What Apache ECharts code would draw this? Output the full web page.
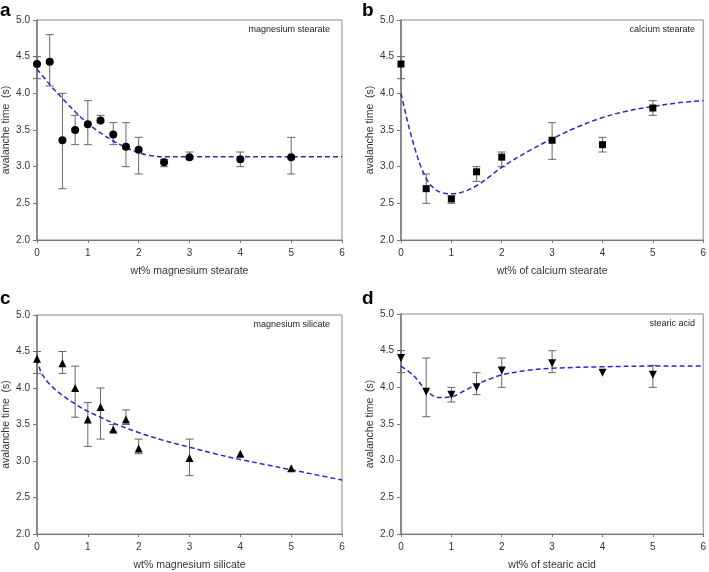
<!DOCTYPE html>
<html><head><meta charset="utf-8">
<script src="https://cdn.jsdelivr.net/npm/echarts@6/dist/echarts.min.js"></script>
<style>html,body{margin:0;padding:0;background:#fff}#c{width:709px;height:572px}</style>
</head><body><div id="c"></div>
<script>
// ---- data ----
const xA = [0,0.25,0.5,0.75,1,1.25,1.5,1.75,2,2.5,3,4,5];
const yA = [4.40,4.43,3.36,3.50,3.58,3.63,3.44,3.27,3.23,3.06,3.13,3.10,3.13];
const loA = [4.2,4.1,2.7,3.3,3.3,3.6,3.3,3.0,2.9,3.0,3.1,3.0,2.9];
const hiA = [4.5,4.8,4.0,3.7,3.9,3.7,3.6,3.6,3.4,3.1,3.2,3.2,3.4];
const fitXA = [0,0.25,0.5,0.75,1,1.25,1.5,1.75,2,2.25,2.5,3,4,5,6];
const fitYA = [4.33,4.12,3.93,3.75,3.59,3.46,3.35,3.26,3.19,3.15,3.135,3.135,3.135,3.135,3.135];

const xB = [0,0.5,1,1.5,2,3,4,5];
const yB = [4.40,2.70,2.56,2.93,3.13,3.36,3.30,3.80];
const loB = [4.2,2.5,2.5,2.8,3.0,3.1,3.2,3.7];
const hiB = [4.5,2.9,2.6,3.0,3.2,3.6,3.4,3.9];
const fitXB = [0,0.1,0.2,0.3,0.4,0.5,0.6,0.75,1,1.25,1.5,1.75,2,2.5,3,3.5,4,4.5,5,5.5,6];
const fitYB = [4.0,3.7,3.43,3.19,2.99,2.84,2.74,2.66,2.63,2.66,2.74,2.86,2.99,3.2,3.38,3.54,3.67,3.76,3.82,3.87,3.9];

const xC = [0,0.5,0.75,1,1.25,1.5,1.75,2,3,4,5];
const yC = [4.40,4.34,4.00,3.57,3.74,3.43,3.57,3.17,3.04,3.10,2.90];
const loC = [4.2,4.2,3.6,3.2,3.3,3.4,3.5,3.1,2.8,null,null];
const hiC = [4.5,4.5,4.3,3.8,4.0,3.5,3.7,3.3,3.3,null,null];
const fitXC = [0,0.05,0.1,0.25,0.5,0.75,1,1.25,1.5,2,2.5,3,3.5,4,4.5,5,5.5,6];
const fitYC = [4.4,4.27,4.19,4.05,3.9,3.78,3.68,3.6,3.52,3.39,3.28,3.19,3.1,3.02,2.95,2.88,2.81,2.74];

const xD = [0,0.5,1,1.5,2,3,4,5];
const yD = [4.40,3.94,3.90,4.00,4.23,4.33,4.20,4.17];
const loD = [4.2,3.6,3.8,3.9,4.0,4.2,null,4.0];
const hiD = [4.5,4.4,4.0,4.2,4.4,4.5,null,4.3];
const fitXD = [0,0.25,0.5,0.75,1,1.25,1.5,1.75,2,2.5,3,4,5,6];
const fitYD = [4.29,4.16,3.96,3.86,3.87,3.95,4.04,4.11,4.17,4.23,4.26,4.28,4.29,4.29];

const panelLetters = ['a','b','c','d'];
const panelNames = ['magnesium stearate','calcium stearate','magnesium silicate','stearic acid'];
const xTitles = ['wt% magnesium stearate','wt% of calcium stearate','wt% magnesium silicate','wt% of stearic acid'];
const yTitle = 'avalanche time  (s)';

// ---- chart ----
const FONT = '"Liberation Sans", Arial, sans-serif';
const panels = [
  {x:xA,y:yA,lo:loA,hi:hiA,fx:fitXA,fy:fitYA,sym:'circle',size:8},
  {x:xB,y:yB,lo:loB,hi:hiB,fx:fitXB,fy:fitYB,sym:'rect',size:7},
  {x:xC,y:yC,lo:loC,hi:hiC,fx:fitXC,fy:fitYC,sym:'triangle',size:8},
  {x:xD,y:yD,lo:loD,hi:hiD,fx:fitXD,fy:fitYD,sym:'path://M0,0 L10,0 L5,9 Z',size:8}
];
const grids = [
  {left:37,top:20,width:305,height:220},
  {left:401,top:20,width:306,height:220},
  {left:37,top:315,width:305,height:220},
  {left:401,top:314,width:306,height:220}
];
const option = {
  animation:false,
  backgroundColor:'#fff',
  grid: grids.map(g=>Object.assign({show:true,borderColor:'#8a8a8a',borderWidth:1,backgroundColor:'transparent'},g)),
  xAxis: grids.map((g,i)=>({
    type:'value',gridIndex:i,min:0,max:6,interval:1,
    name:xTitles[i],nameLocation:'middle',nameGap:26,
    nameTextStyle:{fontFamily:FONT,fontSize:10.5,color:'#333'},
    axisLine:{show:true,lineStyle:{color:'#777',width:1}},
    axisTick:{show:true,length:3,lineStyle:{color:'#777'}},
    axisLabel:{fontFamily:FONT,fontSize:10,color:'#333',margin:8},
    splitLine:{show:false}
  })),
  yAxis: grids.map((g,i)=>({
    type:'value',gridIndex:i,min:2,max:5,interval:0.5,
    name:yTitle,nameLocation:'middle',nameGap:25,
    nameTextStyle:{fontFamily:FONT,fontSize:10.5,color:'#333'},
    axisLine:{show:true,lineStyle:{color:'#777',width:1.5}},
    axisTick:{show:true,length:4,lineStyle:{color:'#777'}},
    axisLabel:{fontFamily:FONT,fontSize:10,color:'#333',margin:7,formatter:v=>v.toFixed(1)},
    splitLine:{show:false}
  })),
  graphic: [],
  series: []
};
const letterPos = [[0,1],[362,1],[0,289],[362,289]];
panelLetters.forEach((L,i)=>{
  option.graphic.push({type:'text',left:letterPos[i][0],top:letterPos[i][1],
    style:{text:L,font:'bold 19px '+FONT,fill:'#000'}});
  const g = grids[i];
  option.graphic.push({type:'text',right:709-(g.left+g.width)+12,top:g.top+5,
    style:{text:panelNames[i],font:'9px '+FONT,fill:'#222'}});
});
panels.forEach((p,i)=>{
  const errData = p.x.map((x,k)=>[x,p.lo[k],p.hi[k]]).filter(d=>d[1]!==null);
  option.series.push({
    type:'custom',xAxisIndex:i,yAxisIndex:i,z:2,
    data:errData,
    renderItem:(params,api)=>{
      const lo = api.coord([api.value(0),api.value(1)]);
      const hi = api.coord([api.value(0),api.value(2)]);
      const w = 4;
      const st = {stroke:'#666',lineWidth:1};
      return {type:'group',children:[
        {type:'line',shape:{x1:lo[0],y1:lo[1],x2:hi[0],y2:hi[1]},style:st},
        {type:'line',shape:{x1:lo[0]-w,y1:lo[1],x2:lo[0]+w,y2:lo[1]},style:st},
        {type:'line',shape:{x1:hi[0]-w,y1:hi[1],x2:hi[0]+w,y2:hi[1]},style:st}
      ]};
    }
  });
  option.series.push({
    type:'line',xAxisIndex:i,yAxisIndex:i,z:3,
    data:p.fx.map((x,k)=>[x,p.fy[k]]),
    smooth:0.35,showSymbol:false,
    lineStyle:{color:'#2a2ac8',width:1.5,type:[5,3]}
  });
  option.series.push({
    type:'scatter',xAxisIndex:i,yAxisIndex:i,z:4,
    data:p.x.map((x,k)=>[x,p.y[k]]),
    symbol:p.sym,symbolSize:p.size,
    itemStyle:{color:'#000',opacity:1}
  });
});
const chart = echarts.init(document.getElementById('c'),null,{renderer:'canvas'});
chart.setOption(option);
</script>
</body></html>
